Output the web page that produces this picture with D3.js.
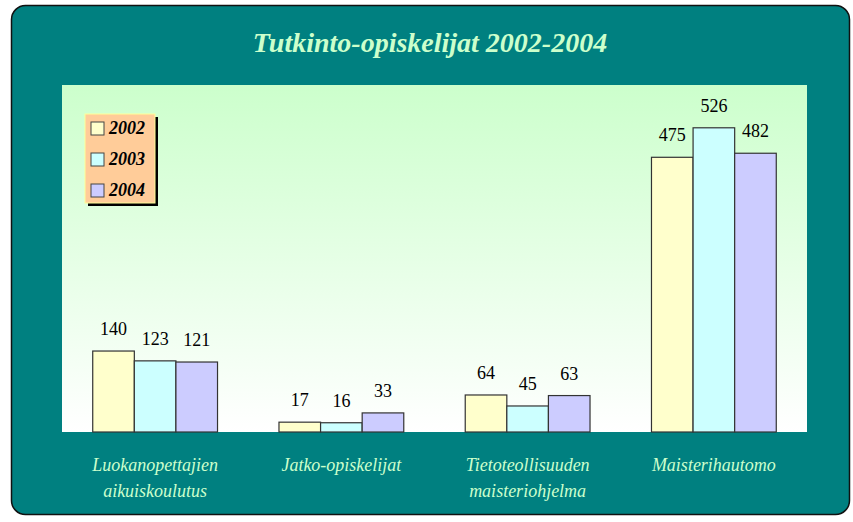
<!DOCTYPE html>
<html>
<head>
<meta charset="utf-8">
<script src="https://cdn.jsdelivr.net/npm/d3@7"></script>
<style>
  body { margin: 0; background: #ffffff; }
  svg { display: block; }
</style>
</head>
<body>
<div id="vis"></div>
<script>
// chart data
var categories = [
    ["Luokanopettajien", "aikuiskoulutus"],
    ["Jatko-opiskelijat"],
    ["Tietoteollisuuden", "maisteriohjelma"],
    ["Maisterihautomo"]
];
var years = ["2002", "2003", "2004"];
var values2002 = [140, 17, 64, 475];
var values2003 = [123, 16, 45, 526];
var values2004 = [121, 33, 63, 482];
var yearColours = ["#ffffcc", "#ccffff", "#ccccff"];

var width = 853, height = 522;
var plot = {left: 62, right: 807, top: 85, bottom: 432};

var svg = d3.select("#vis").append("svg")
    .attr("width", width)
    .attr("height", height);

var defs = svg.append("defs");
var grad = defs.append("linearGradient")
    .attr("id", "bg")
    .attr("x1", 0).attr("y1", 0).attr("x2", 0).attr("y2", 1);
grad.append("stop").attr("offset", "0%").attr("stop-color", "#ccffcc");
grad.append("stop").attr("offset", "100%").attr("stop-color", "#ffffff");

// teal frame
svg.append("rect")
    .attr("x", 11.5).attr("y", 5.5)
    .attr("width", 838).attr("height", 509)
    .attr("rx", 14).attr("ry", 14)
    .attr("fill", "#008080")
    .attr("stroke", "#111")
    .attr("stroke-width", 1.5);

svg.append("text")
    .attr("x", 430).attr("y", 52)
    .attr("text-anchor", "middle")
    .attr("font-family", "'Liberation Serif', serif")
    .attr("font-style", "italic")
    .attr("font-weight", "bold")
    .attr("font-size", 28)
    .attr("fill", "#ccffcc")
    .text("Tutkinto-opiskelijat 2002-2004");

// plot area
svg.append("rect")
    .attr("x", plot.left).attr("y", plot.top)
    .attr("width", plot.right - plot.left)
    .attr("height", plot.bottom - plot.top)
    .attr("fill", "url(#bg)");

var x0 = d3.scaleBand()
    .domain(d3.range(categories.length))
    .range([plot.left, plot.right])
    .paddingInner(0.33)
    .paddingOuter(0.165);

var x1 = d3.scaleBand()
    .domain(years)
    .range([0, x0.bandwidth()]);

var y = d3.scaleLinear()
    .domain([0, 600])
    .range([plot.bottom, plot.top]);

var series = [values2002, values2003, values2004];
var rows = [];
categories.forEach(function(c, i){
    years.forEach(function(yr, j){
        rows.push({cat: i, year: yr, value: series[j][i], colour: yearColours[j]});
    });
});

var bars = svg.append("g");
bars.selectAll("rect")
    .data(rows)
    .enter().append("rect")
    .attr("x", function(d){ return x0(d.cat) + x1(d.year); })
    .attr("y", function(d){ return y(d.value); })
    .attr("width", x1.bandwidth())
    .attr("height", function(d){ return y(0) - y(d.value); })
    .attr("fill", function(d){ return d.colour; })
    .attr("stroke", "#333")
    .attr("stroke-width", 1.2);

bars.selectAll("text")
    .data(rows)
    .enter().append("text")
    .attr("x", function(d){ return x0(d.cat) + x1(d.year) + x1.bandwidth() / 2; })
    .attr("y", function(d){ return y(d.value) - 16; })
    .attr("text-anchor", "middle")
    .attr("font-family", "'Liberation Serif', serif")
    .attr("font-size", 18)
    .attr("fill", "#000")
    .text(function(d){ return d.value; });

// category labels
var catLabels = svg.append("g");
categories.forEach(function(lines, i){
    var t = catLabels.append("text")
        .attr("text-anchor", "middle")
        .attr("font-family", "'Liberation Serif', serif")
        .attr("font-style", "italic")
        .attr("font-size", 18)
        .attr("fill", "#ccffcc");
    lines.forEach(function(line, k){
        t.append("tspan")
            .attr("x", x0(i) + x0.bandwidth() / 2)
            .attr("y", 471 + k * 26)
            .text(line);
    });
});

// legend
var legend = svg.append("g").attr("transform", "translate(85,114)");
legend.append("rect")
    .attr("x", 3).attr("y", 3)
    .attr("width", 70).attr("height", 89)
    .attr("fill", "#000");
legend.append("rect")
    .attr("x", 0).attr("y", 0)
    .attr("width", 70).attr("height", 89)
    .attr("fill", "#ffcc99")
    .attr("stroke", "#ffff99")
    .attr("stroke-width", 1);

var item = legend.selectAll(".item")
    .data(years)
    .enter().append("g")
    .attr("class", "item")
    .attr("transform", function(d, i){ return "translate(0," + (14 + i * 31) + ")"; });
item.append("rect")
    .attr("x", 6).attr("y", -6)
    .attr("width", 13).attr("height", 13)
    .attr("fill", function(d, i){ return yearColours[i]; })
    .attr("stroke", "#444")
    .attr("stroke-width", 1);
item.append("text")
    .attr("x", 24).attr("y", 6)
    .attr("font-family", "'Liberation Serif', serif")
    .attr("font-style", "italic")
    .attr("font-weight", "bold")
    .attr("font-size", 18)
    .attr("fill", "#000")
    .text(function(d){ return d; });
</script>
</body>
</html>
